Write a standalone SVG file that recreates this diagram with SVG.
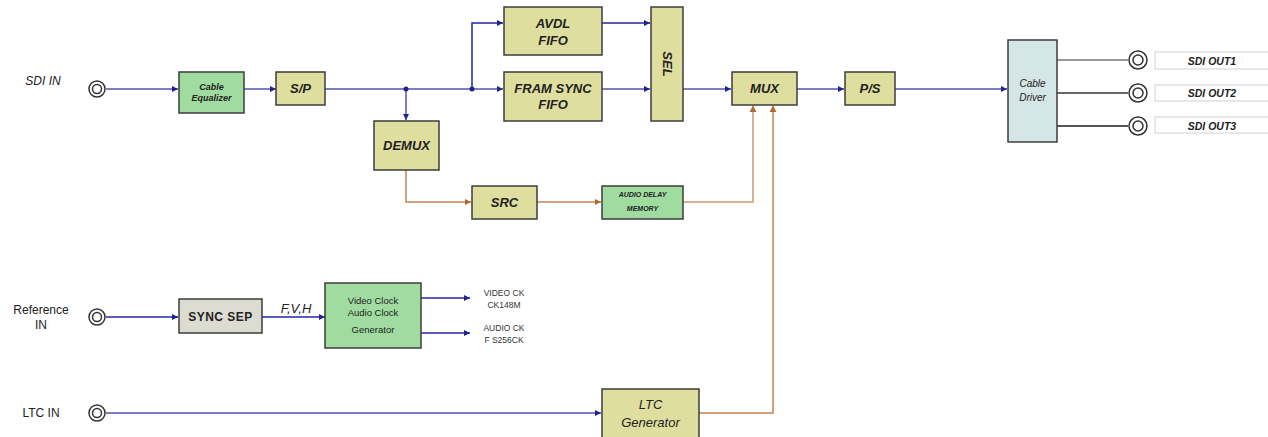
<svg xmlns="http://www.w3.org/2000/svg" width="1268" height="437" viewBox="0 0 1268 437">
<style>
.box{stroke:#3c3c3c;stroke-width:1.5}
.y{fill:#dede9f}.g{fill:#a0dca0}.gr{fill:#dcdcd2}.bl{fill:#d5e6e6}
.t{font-family:"Liberation Sans",Arial,sans-serif;font-weight:bold;font-style:italic;fill:#222;text-anchor:middle}
.n{font-family:"Liberation Sans",Arial,sans-serif;fill:#222;text-anchor:middle}
.main{stroke:#7e7ec0;stroke-width:2;fill:none}
.dk{stroke:#2424a0;stroke-width:1.5;fill:none}
.br{stroke:#c48450;stroke-width:1.5;fill:none}
.lbr{stroke:#d2b396;stroke-width:2;fill:none}
.out{stroke:#777;stroke-width:1.8;fill:none}
.con{fill:#fff;stroke:#333;stroke-width:1.5}
.lbl{fill:#fff;stroke:#e0e0e0;stroke-width:1.5}
</style>
<defs>
<marker id="ab" viewBox="0 0 6 6" refX="6" refY="3" markerWidth="6" markerHeight="6" markerUnits="userSpaceOnUse" orient="auto"><path d="M0,0L6,3L0,6z" fill="#22228e"/></marker>
<marker id="abr" viewBox="0 0 6 6" refX="6" refY="3" markerWidth="6" markerHeight="6" markerUnits="userSpaceOnUse" orient="auto"><path d="M0,0L6,3L0,6z" fill="#b06a30"/></marker>
</defs>
<g id="connectors">
<line class="main" x1="106" y1="89" x2="178" y2="89" marker-end="url(#ab)"/>
<line class="main" x1="244" y1="89" x2="276" y2="89" marker-end="url(#ab)"/>
<line class="main" x1="325" y1="89" x2="503" y2="89" marker-end="url(#ab)"/>
<line class="main" x1="406" y1="89" x2="406" y2="120" marker-end="url(#ab)"/>
<path class="dk" d="M472,89V23H503" marker-end="url(#ab)"/>
<line class="dk" x1="602" y1="23" x2="650" y2="23" marker-end="url(#ab)"/>
<line class="main" x1="602" y1="89" x2="650" y2="89" marker-end="url(#ab)"/>
<line class="main" x1="683" y1="89" x2="731" y2="89" marker-end="url(#ab)"/>
<line class="main" x1="797" y1="89" x2="844" y2="89" marker-end="url(#ab)"/>
<line class="main" x1="895" y1="89" x2="1007" y2="89" marker-end="url(#ab)"/>
<circle cx="406" cy="89" r="2.5" fill="#22228e"/>
<circle cx="472" cy="89" r="2.5" fill="#22228e"/>
<path class="br" d="M406,170V202H471" marker-end="url(#abr)"/>
<line class="br" x1="537" y1="202" x2="601" y2="202" marker-end="url(#abr)"/>
<path class="lbr" d="M683,202H753V106"/>
<path d="M749.5,112L753,105.5L756.5,112z" fill="#b06a30"/>
<path class="br" d="M699,413H773V106"/>
<path d="M769.5,112L773,105.5L776.5,112z" fill="#b06a30"/>
<line class="out" x1="1057" y1="60" x2="1128" y2="60" style="stroke:#999"/>
<line class="out" x1="1057" y1="93" x2="1128" y2="93" style="stroke:#666"/>
<line class="out" x1="1057" y1="126" x2="1128" y2="126" style="stroke:#555"/>
<line class="dk" x1="106" y1="317" x2="178" y2="317" marker-end="url(#ab)"/>
<line class="dk" x1="262" y1="317" x2="325" y2="317" marker-end="url(#ab)"/>
<line class="dk" x1="421" y1="298" x2="470" y2="298" marker-end="url(#ab)"/>
<line class="dk" x1="421" y1="333" x2="470" y2="333" marker-end="url(#ab)"/>
<line class="main" x1="106" y1="413" x2="601" y2="413" style="stroke:#5050b0;stroke-width:1.6" marker-end="url(#ab)"/>
</g>
<g id="sdi-in">
<text class="n" x="43" y="85" style="font-style:italic;font-size:12px">SDI IN</text>
<circle class="con" cx="97" cy="89" r="8"/><circle class="con" cx="97" cy="89" r="4.5"/>
</g>
<g id="cable-equalizer"><rect class="box g" x="179" y="72" width="65" height="41"/>
<text class="t" style="font-size:9px"><tspan x="211.5" y="90">Cable</tspan><tspan x="211.5" y="101">Equalizer</tspan></text></g>
<g id="sp"><rect class="box y" x="276" y="72" width="49" height="33"/><text class="t" x="300.5" y="93" style="font-size:13px">S/P</text></g>
<g id="demux"><rect class="box y" x="374" y="121" width="65" height="49"/><text class="t" x="406.5" y="150" style="font-size:13px">DEMUX</text></g>
<g id="avdl-fifo"><rect class="box y" x="504" y="7" width="98" height="48"/>
<text class="t" style="font-size:13px"><tspan x="553" y="28">AVDL</tspan><tspan x="553" y="45">FIFO</tspan></text></g>
<g id="fram-sync-fifo"><rect class="box y" x="504" y="72" width="98" height="49"/>
<text class="t" style="font-size:13px"><tspan x="553" y="93">FRAM SYNC</tspan><tspan x="553" y="109">FIFO</tspan></text></g>
<g id="sel"><rect class="box y" x="651" y="7" width="32" height="114"/>
<text class="t" transform="translate(662.5,64) rotate(90)" x="0" y="0" style="font-size:13px">SEL</text></g>
<g id="mux"><rect class="box y" x="732" y="72" width="65" height="33"/><text class="t" x="764.5" y="93" style="font-size:13px">MUX</text></g>
<g id="ps"><rect class="box y" x="845" y="72" width="50" height="33"/><text class="t" x="870" y="93" style="font-size:13px">P/S</text></g>
<g id="cable-driver"><rect class="box bl" x="1008" y="40" width="49" height="102"/>
<text class="n" style="font-style:italic;font-size:10px"><tspan x="1032.5" y="87">Cable</tspan><tspan x="1032.5" y="101">Driver</tspan></text></g>
<g id="sdi-out1"><circle class="con" cx="1138" cy="60" r="9"/><circle class="con" cx="1138" cy="60" r="5"/>
<rect class="lbl" x="1155" y="52" width="120" height="17"/><text class="t" x="1212" y="64.5" style="font-size:10.5px">SDI OUT1</text></g>
<g id="sdi-out2"><circle class="con" cx="1138" cy="93" r="9"/><circle class="con" cx="1138" cy="93" r="5"/>
<rect class="lbl" x="1155" y="85" width="120" height="16"/><text class="t" x="1212" y="97" style="font-size:10.5px">SDI OUT2</text></g>
<g id="sdi-out3"><circle class="con" cx="1138" cy="126" r="9"/><circle class="con" cx="1138" cy="126" r="5"/>
<rect class="lbl" x="1155" y="117" width="120" height="16"/><text class="t" x="1212" y="130" style="font-size:10.5px">SDI OUT3</text></g>
<g id="src"><rect class="box y" x="472" y="186" width="65" height="33"/><text class="t" x="504.5" y="207" style="font-size:13px">SRC</text></g>
<g id="audio-delay-memory"><rect class="box g" x="602" y="186" width="81" height="33"/>
<text class="t" style="font-size:7px"><tspan x="642.5" y="197">AUDIO DELAY</tspan><tspan x="642.5" y="211">MEMORY</tspan></text></g>
<g id="reference-in">
<text class="n" style="font-size:12px"><tspan x="41" y="314">Reference</tspan><tspan x="41" y="329">IN</tspan></text>
<circle class="con" cx="97" cy="317" r="8"/><circle class="con" cx="97" cy="317" r="4.5"/>
</g>
<g id="sync-sep"><rect class="box gr" x="179" y="299" width="83" height="34"/><text class="n" x="220.5" y="321" style="font-weight:bold;font-size:12px;letter-spacing:0.5px">SYNC SEP</text>
<text class="n" x="296" y="313" style="font-style:italic;font-size:13px">F,V,H</text></g>
<g id="clock-generator"><rect class="box g" x="325" y="283" width="96" height="65"/>
<text class="n" style="font-size:9.5px"><tspan x="373" y="304">Video Clock</tspan><tspan x="373" y="316">Audio Clock</tspan><tspan x="373" y="333">Generator</tspan></text></g>
<g id="clock-outputs"><text class="n" style="font-size:8.5px;fill:#333"><tspan x="504" y="296">VIDEO CK</tspan><tspan x="504" y="308">CK148M</tspan><tspan x="504" y="331">AUDIO CK</tspan><tspan x="504" y="343">F S256CK</tspan></text></g>
<g id="ltc-in"><text class="n" x="41" y="417" style="font-size:12px">LTC IN</text>
<circle class="con" cx="97" cy="413" r="8"/><circle class="con" cx="97" cy="413" r="4.5"/></g>
<g id="ltc-generator"><rect class="box y" x="602" y="389" width="97" height="50"/>
<text class="n" style="font-style:italic;font-size:13px"><tspan x="650.5" y="409">LTC</tspan><tspan x="650.5" y="427">Generator</tspan></text></g>
</svg>
